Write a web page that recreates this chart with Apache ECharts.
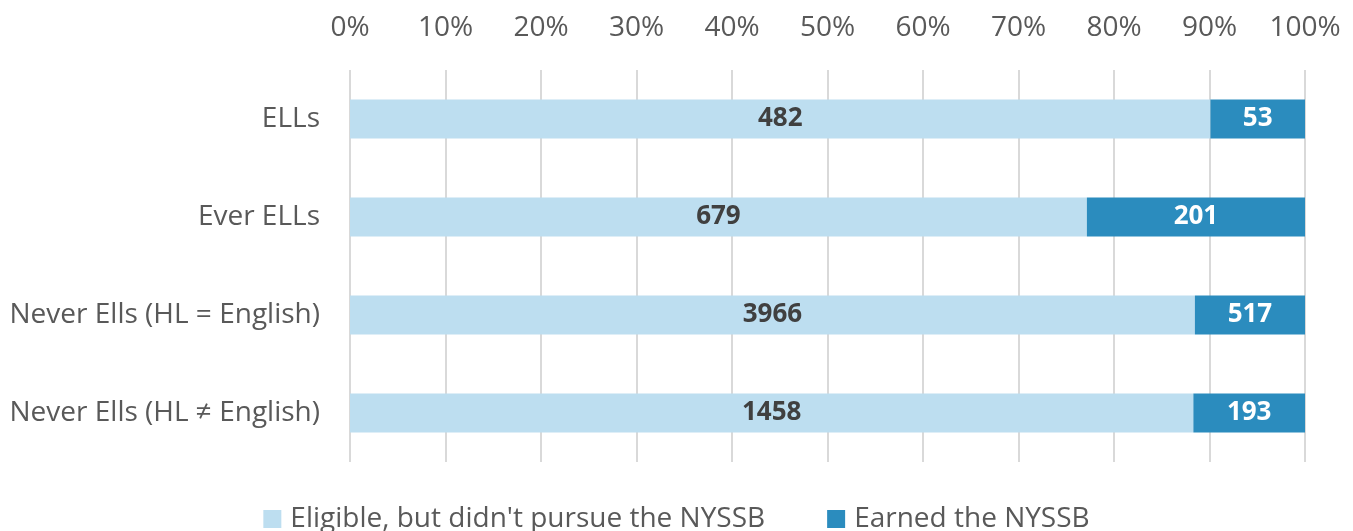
<!DOCTYPE html>
<html><head><meta charset="utf-8">
<script src="https://cdn.jsdelivr.net/npm/echarts@6/dist/echarts.min.js"></script>
<style>html,body{margin:0;padding:0;background:#fff}#c{width:1353px;height:531px}</style>
</head><body><div id="c"></div>
<script>
const categories = ['ELLs', 'Ever ELLs', 'Never Ells (HL = English)', 'Never Ells (HL \u2260 English)'];
const seriesNames = ["Eligible, but didn't pursue the NYSSB", 'Earned the NYSSB'];
const notPursued = [482, 679, 3966, 1458];
const earned = [53, 201, 517, 193];
const tickLabels = ['0%','10%','20%','30%','40%','50%','60%','70%','80%','90%','100%'];

const totals = notPursued.map((v, i) => v + earned[i]);
const pct = arr => arr.map((v, i) => ({value: v / totals[i] * 100, count: v}));
const FONT = 'Open Sans';
const chart = echarts.init(document.getElementById('c'));
chart.setOption({
  animation: false,
  textStyle: {fontFamily: FONT},
  grid: {left: 350, right: 48, top: 70, bottom: 69, containLabel: false},
  legend: {
    bottom: -7, left: 'center', itemWidth: 18, itemHeight: 18, itemGap: 62,
    icon: 'rect',
    textStyle: {fontSize: 28, color: '#595959', fontFamily: FONT, padding: [0, 0, 0, 4]},
    data: seriesNames
  },
  xAxis: {
    type: 'value', position: 'top', min: 0, max: 100, interval: 10,
    axisLine: {show: false}, axisTick: {show: false},
    splitLine: {lineStyle: {color: '#d9d9d9', width: 2}},
    axisLabel: {fontSize: 28, color: '#595959', margin: 28,
      formatter: v => tickLabels[Math.round(v / 10)]}
  },
  yAxis: {
    type: 'category', data: categories, inverse: true,
    axisLine: {show: false}, axisTick: {show: false},
    axisLabel: {fontSize: 28, color: '#595959', margin: 30}
  },
  series: [
    {name: seriesNames[0], type: 'bar', stack: 'a', barWidth: '40%', data: pct(notPursued),
     itemStyle: {color: '#BDDEF0'},
     label: {show: true, position: 'inside', fontSize: 26, fontWeight: 'bold', color: '#404040', fontFamily: FONT,
       formatter: p => p.data.count}},
    {name: seriesNames[1], type: 'bar', stack: 'a', barWidth: '40%', data: pct(earned),
     itemStyle: {color: '#2B8CBE'},
     label: {show: true, position: 'inside', fontSize: 26, fontWeight: 'bold', color: '#ffffff', fontFamily: FONT,
       formatter: p => p.data.count}}
  ]
});
</script></body></html>
